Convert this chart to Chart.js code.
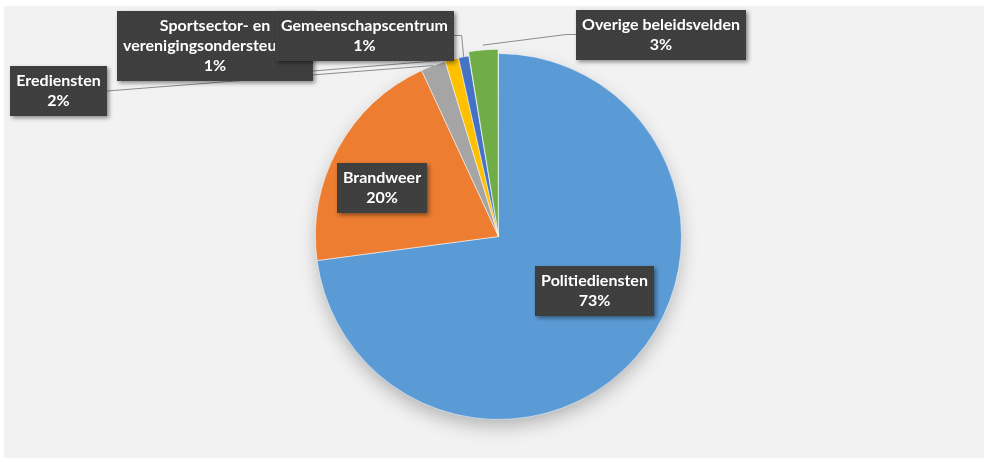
<!DOCTYPE html>
<html>
<head>
<meta charset="utf-8">
<script src="https://cdn.jsdelivr.net/npm/chart.js@4/dist/chart.umd.min.js"></script>
<style>
html, body { margin: 0; padding: 0; background: #fff; }
#wrap { width: 984px; height: 462px; }
</style>
</head>
<body>
<div id="wrap"><canvas id="myChart"></canvas></div>
<script>
// data
var categorieen = ['Politiediensten', 'Brandweer', 'Erediensten', 'Sportsector- en verenigingsondersteuning', 'Gemeenschapscentrum', 'Overige beleidsvelden']
var aandeel = [72.9, 20.2, 2.2, 1.2, 0.9, 2.6]
var kleuren = ['#5B9BD5', '#ED7D31', '#A5A5A5', '#FFC000', '#4472C4', '#70AD47']
var labelRegels = [['Politiediensten'], ['Brandweer'], ['Erediensten'], ['Sportsector- en', 'verenigingsondersteuning'], ['Gemeenschapscentrum'], ['Overige beleidsvelden']]

// layout of the label boxes (centre) and where their leader line leaves the box
var labelPos = [[594, 291], [382, 188], [58, 91], [215, 46], [364, 36], [661, 35]]
var lijnVan = [null, null, 'rechts', 'rechtsonder', 'haak', 'links']

// dotted dark texture for the label boxes
function maakPatroon(ctx) {
    var c = document.createElement('canvas')
    c.width = 4; c.height = 4
    var p = c.getContext('2d')
    p.fillStyle = '#3d3d3d'
    p.fillRect(0, 0, 4, 4)
    p.fillStyle = '#4a4a4a'
    p.fillRect(0, 0, 1, 1)
    p.fillRect(2, 2, 1, 1)
    return ctx.createPattern(c, 'repeat')
}

var labelPlugin = {
    id: 'labels',
    beforeDraw: function (chart) {
        var ctx = chart.ctx
        ctx.save()
        ctx.fillStyle = '#ffffff'
        ctx.fillRect(0, 0, chart.width, chart.height)
        ctx.fillStyle = '#F2F2F2'
        ctx.fillRect(4, 6, chart.width - 4, 452)
        ctx.restore()
    },
    beforeDatasetsDraw: function (chart) {
        // soft shadow under the pie
        var arc = chart.getDatasetMeta(0).data[0]
        var ctx = chart.ctx
        ctx.save()
        ctx.shadowColor = 'rgba(0,0,0,0.30)'
        ctx.shadowBlur = 20
        ctx.shadowOffsetY = 8
        ctx.fillStyle = '#F2F2F2'
        ctx.beginPath()
        ctx.arc(arc.x, arc.y, arc.outerRadius - 3, 0, Math.PI * 2)
        ctx.fill()
        ctx.restore()
    },
    afterDatasetsDraw: function (chart) {
        var ctx = chart.ctx
        var arcs = chart.getDatasetMeta(0).data
        var totaal = aandeel.reduce(function (a, b) { return a + b }, 0)
        ctx.save()
        ctx.font = 'bold 16px Lato'
        var boxen = []
        for (var i = 0; i < arcs.length; i++) {
            var regels = labelRegels[i].concat([Math.round(aandeel[i] / totaal * 100) + '%'])
            var w = 0
            for (var j = 0; j < regels.length; j++) w = Math.max(w, ctx.measureText(regels[j]).width)
            w = Math.round(w + 12)
            var h = regels.length * 20 + 10
            var x0 = Math.round(labelPos[i][0] - w / 2)
            var y0 = Math.round(labelPos[i][1] - h / 2)
            boxen.push({ x: x0, y: y0, w: w, h: h, regels: regels })
        }

        // leader lines
        ctx.strokeStyle = '#8c8c8c'
        ctx.lineWidth = 1
        for (var i = 0; i < arcs.length; i++) {
            if (!lijnVan[i]) continue
            var a = arcs[i]
            var mid = (a.startAngle + a.endAngle) / 2
            var r = a.outerRadius + (a.options.offset || 0)
            var px = a.x + Math.cos(mid) * r
            var py = a.y + Math.sin(mid) * r
            var b = boxen[i]
            ctx.beginPath()
            if (lijnVan[i] == 'rechts') {
                ctx.moveTo(b.x + b.w, b.y + b.h / 2)
                ctx.lineTo(px, py)
            } else if (lijnVan[i] == 'rechtsonder') {
                ctx.moveTo(b.x + b.w, b.y + b.h - 10)
                ctx.lineTo(px, py)
            } else if (lijnVan[i] == 'haak') {
                ctx.moveTo(b.x + b.w, Math.round(b.y + b.h / 2) - 0.5)
                ctx.lineTo(px - 2, Math.round(b.y + b.h / 2) - 0.5)
                ctx.lineTo(px, py)
            } else {
                ctx.moveTo(b.x, Math.round(b.y + b.h / 2) - 0.5)
                ctx.lineTo(b.x - 10, Math.round(b.y + b.h / 2) - 0.5)
                ctx.lineTo(px, py)
            }
            ctx.stroke()
        }

        // boxes with text
        var patroon = maakPatroon(ctx)
        for (var i = 0; i < boxen.length; i++) {
            var b = boxen[i]
            ctx.save()
            ctx.shadowColor = 'rgba(0,0,0,0.45)'
            ctx.shadowBlur = 4
            ctx.shadowOffsetX = 2
            ctx.shadowOffsetY = 2
            ctx.fillStyle = patroon
            ctx.fillRect(b.x, b.y, b.w, b.h)
            ctx.restore()
            ctx.fillStyle = '#ffffff'
            ctx.textAlign = 'center'
            ctx.textBaseline = 'middle'
            for (var j = 0; j < b.regels.length; j++) {
                ctx.fillText(b.regels[j], b.x + b.w / 2, b.y + 15 + j * 20)
            }
        }
        ctx.restore()
    }
}

var ctx = document.getElementById('myChart').getContext('2d')
var chart = new Chart(ctx, {
    type: 'pie',
    data: {
        labels: categorieen,
        datasets: [{
            data: aandeel,
            backgroundColor: kleuren,
            borderColor: 'rgba(255,255,255,0.5)',
            borderWidth: 1,
            offset: [0, 0, 0, 0, 0, 9],
            radius: 183
        }]
    },
    options: {
        responsive: true,
        maintainAspectRatio: false,
        animation: false,
        layout: { padding: { left: 13, right: 0, top: 11, bottom: 0 } },
        plugins: {
            legend: { display: false },
            tooltip: { enabled: false }
        }
    },
    plugins: [labelPlugin]
})
</script>
</body>
</html>
